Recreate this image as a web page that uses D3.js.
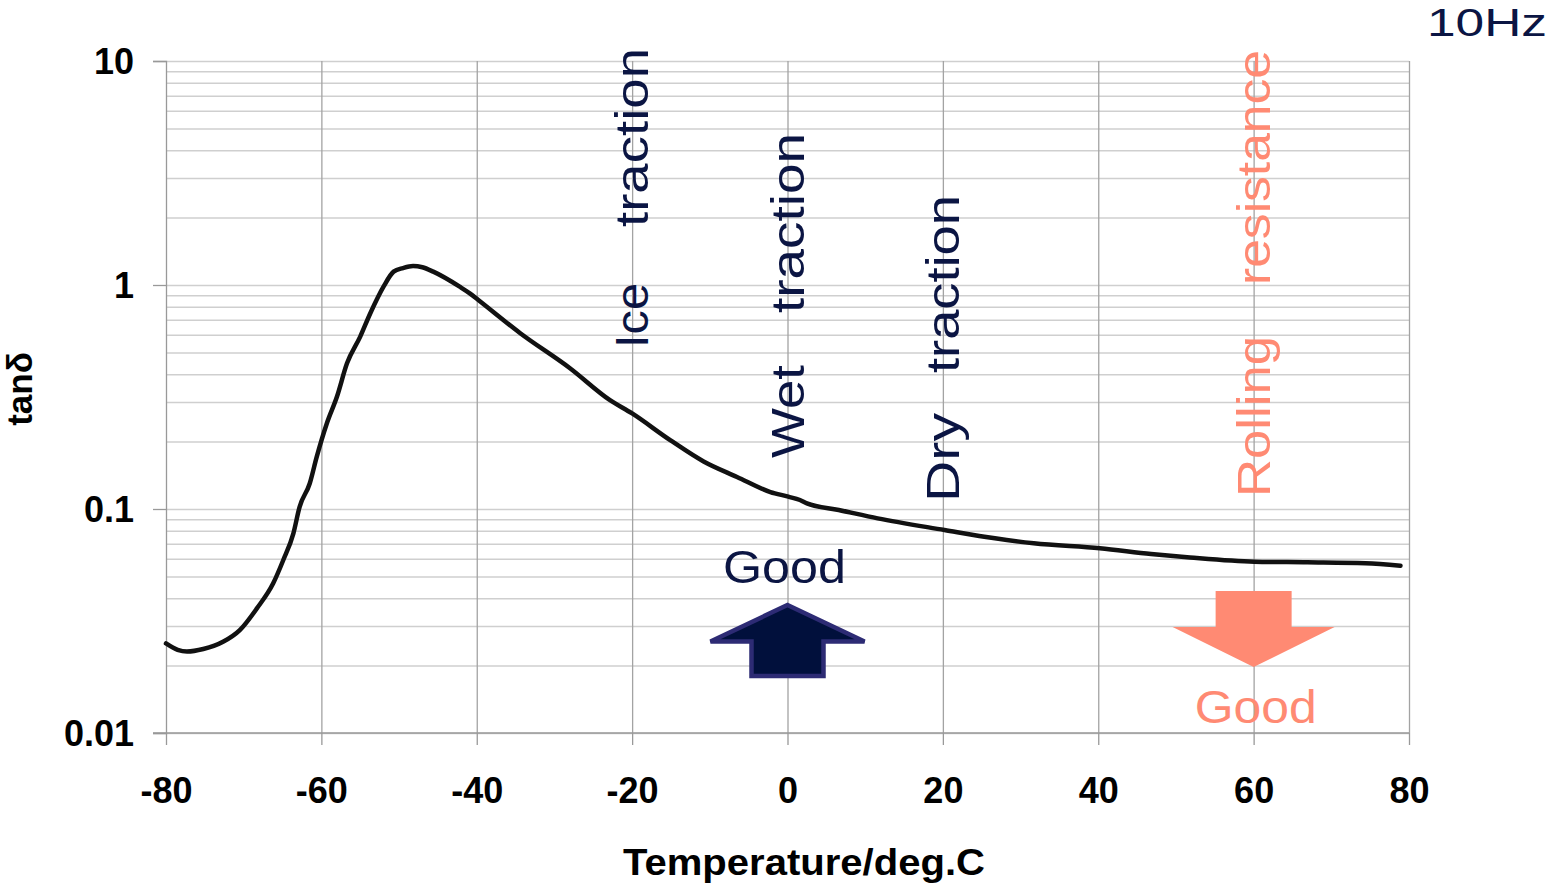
<!DOCTYPE html>
<html>
<head>
<meta charset="utf-8">
<script src="https://cdn.jsdelivr.net/npm/d3@7"></script>
<style>
  html, body { margin: 0; padding: 0; background: #ffffff; }
  svg { display: block; }
  text { font-family: "Liberation Sans", Arial, sans-serif; }
</style>
</head>
<body>
<svg id="chart" width="1552" height="884"></svg>
<script>
// Loss tangent vs temperature (10 Hz sweep)
const temperature = [
  -80, -78.5, -77.3, -75.2, -72.6, -70.5, -68.3, -66.2, -64.9, -63.6,
  -62.8, -61.5, -60.6, -59.3, -58.0, -56.7, -55.0, -53.7, -52.0, -50.7,
  -49.5, -48.2, -47.0, -45.6, -42.2, -40.9, -39.8, -34.4, -28.0, -22.9,
  -20.0, -15.1, -10.8, -6.5, -2.2, 0.1, 1.6, 2.5, 6.6, 11.6,
  20.2, 26.7, 31.7, 40.2, 46.8, 51.8, 60.1, 66.9, 74.4, 78.9
];
const tanDelta = [
  0.0251, 0.0235, 0.0231, 0.0237, 0.0256, 0.0288, 0.0360, 0.0466, 0.0592, 0.0779,
  0.1023, 0.130, 0.171, 0.241, 0.317, 0.447, 0.588, 0.748, 0.983, 1.147,
  1.19, 1.216, 1.20, 1.147, 0.983, 0.918, 0.857, 0.609, 0.425, 0.307,
  0.267, 0.203, 0.163, 0.139, 0.119, 0.1135, 0.1097, 0.106, 0.0990, 0.0908,
  0.0806, 0.0740, 0.0703, 0.0668, 0.0630, 0.0608, 0.0582, 0.0578, 0.0572, 0.0558
];

const xTicks = [-80, -60, -40, -20, 0, 20, 40, 60, 80];
const xTickLabels = ["-80", "-60", "-40", "-20", "0", "20", "40", "60", "80"];
const yTicks = [0.01, 0.1, 1, 10];
const yTickLabels = ["0.01", "0.1", "1", "10"];

// Performance regions annotated above the curve
const regionTemps = [-20, 0, 20, 60];
const regionWords = [["Ice", "traction"], ["Wet", "traction"], ["Dry", "traction"], ["Rolling", "resistance"]];
const frequencyLabel = "10Hz";
const xTitle = "Temperature/deg.C";
const yTitle = "tanδ";

const NAVY = "#0b1543";
const SALMON = "#ff8a73";

const svg = d3.select("#chart");
const plotL = 166, plotR = 1409, plotT = 61, plotB = 733;

const x = d3.scaleLinear().domain([-80, 80]).range([plotL, plotR]);
const y = d3.scaleLog().domain([0.01, 10]).range([plotB, plotT]);

// Minor + major horizontal grid (1..9 x each decade)
const gridVals = [];
for (let e = -2; e <= 0; e++) for (let k = 1; k <= 9; k++) gridVals.push(k * Math.pow(10, e));
gridVals.push(10);

svg.append("g")
  .attr("transform", `translate(${plotL},0)`)
  .call(d3.axisLeft(y).tickValues(gridVals).tickSize(-(plotR - plotL)).tickFormat(""))
  .call(g => g.select(".domain").remove())
  .call(g => g.selectAll("line").attr("stroke", "#cfcfcf").attr("stroke-width", 1.5));

// Vertical grid
svg.append("g")
  .attr("transform", `translate(0,${plotT})`)
  .call(d3.axisBottom(x).tickValues(xTicks.slice(1)).tickSize(plotB - plotT).tickFormat(""))
  .call(g => g.select(".domain").remove())
  .call(g => g.selectAll("line").attr("stroke", "#a3a3a3").attr("stroke-width", 1.3));

// Y axis with major ticks
svg.append("g")
  .attr("transform", `translate(${plotL},0)`)
  .call(d3.axisLeft(y).tickValues(yTicks).tickSize(13).tickPadding(19)
    .tickFormat((d, i) => yTickLabels[i]))
  .call(g => g.select(".domain").attr("stroke", "#999").attr("stroke-width", 1.3))
  .call(g => g.selectAll("line").attr("stroke", "#999").attr("stroke-width", 1.3))
  .call(g => g.selectAll("text")
    .attr("fill", "#000").attr("font-size", 36).attr("font-weight", "bold")
    .attr("font-family", "Liberation Sans, Arial, sans-serif").attr("dy", "0.36em"));

// X axis
svg.append("g")
  .attr("transform", `translate(0,${plotB})`)
  .call(d3.axisBottom(x).tickValues(xTicks).tickSize(12).tickPadding(32)
    .tickFormat((d, i) => xTickLabels[i]))
  .call(g => g.select(".domain").attr("stroke", "#999").attr("stroke-width", 1.3)
    .attr("d", `M${plotL - 13},0H${plotR}`))
  .call(g => g.selectAll("line").attr("stroke", "#999").attr("stroke-width", 1.3))
  .call(g => g.selectAll("text")
    .attr("fill", "#000").attr("font-size", 36).attr("font-weight", "bold")
    .attr("font-family", "Liberation Sans, Arial, sans-serif").attr("dy", "0.71em"));

// Data curve
const pts = temperature.map((t, i) => [t, tanDelta[i]]);
svg.append("path")
  .datum(pts)
  .attr("fill", "none")
  .attr("stroke", "#111")
  .attr("stroke-width", 4.5)
  .attr("stroke-linejoin", "round")
  .attr("stroke-linecap", "round")
  .attr("d", d3.line().x(d => x(d[0])).y(d => y(d[1])).curve(d3.curveMonotoneX));

// Rotated region labels: [start, end] span of each word along the page height
const wordSpans = [
  [[348, 283], [227, 48]],
  [[458, 365], [313, 133]],
  [[502, 413], [373, 195]],
  [[497, 336], [285, 50]]
];
regionTemps.forEach((t, i) => {
  const color = i === 3 ? SALMON : NAVY;
  const bx = x(t) + 16;
  regionWords[i].forEach((w, j) => {
    const [y0, y1] = wordSpans[i][j];
    svg.append("text")
      .attr("transform", `translate(${bx},${y0}) rotate(-90)`)
      .attr("font-size", 46)
      .attr("fill", color)
      .attr("textLength", y0 - y1)
      .attr("lengthAdjust", "spacingAndGlyphs")
      .text(w);
  });
});

// "Good" direction arrows
function arrowPath(cx, yTip, yWing, yEnd, halfHead, halfShaft) {
  return `M${cx},${yTip}L${cx + halfHead},${yWing}L${cx + halfShaft},${yWing}` +
         `L${cx + halfShaft},${yEnd}L${cx - halfShaft},${yEnd}L${cx - halfShaft},${yWing}` +
         `L${cx - halfHead},${yWing}Z`;
}
svg.append("path")
  .attr("d", arrowPath(x(0), 605, 641.5, 676, 77, 36))
  .attr("fill", "#01103c")
  .attr("stroke", "#2d2b74")
  .attr("stroke-width", 4.5)
  .attr("stroke-linejoin", "miter");
svg.append("text")
  .attr("x", x(0) - 3).attr("y", 583)
  .attr("text-anchor", "middle")
  .attr("font-size", 46).attr("fill", NAVY)
  .attr("textLength", 123).attr("lengthAdjust", "spacingAndGlyphs")
  .text("Good");

svg.append("path")
  .attr("d", arrowPath(x(60), 667, 627, 591, 81, 38))
  .attr("fill", SALMON);
svg.append("text")
  .attr("x", x(60) + 2).attr("y", 723)
  .attr("text-anchor", "middle")
  .attr("font-size", 46).attr("fill", SALMON)
  .attr("textLength", 122).attr("lengthAdjust", "spacingAndGlyphs")
  .text("Good");

// Frequency tag
svg.append("text")
  .attr("x", 1427).attr("y", 36)
  .attr("font-family", "Inter, Lato, sans-serif")
  .attr("font-size", 38).attr("fill", NAVY)
  .attr("textLength", 120).attr("lengthAdjust", "spacingAndGlyphs")
  .text(frequencyLabel);

// Axis titles
svg.append("text")
  .attr("x", 804).attr("y", 875)
  .attr("text-anchor", "middle")
  .attr("font-size", 37).attr("font-weight", "bold").attr("fill", "#000")
  .attr("textLength", 362).attr("lengthAdjust", "spacingAndGlyphs")
  .text(xTitle);

svg.append("text")
  .attr("transform", "translate(32,389) rotate(-90)")
  .attr("text-anchor", "middle")
  .attr("font-size", 35).attr("font-weight", "bold").attr("fill", "#000")
  .text(yTitle);
</script>
</body>
</html>
